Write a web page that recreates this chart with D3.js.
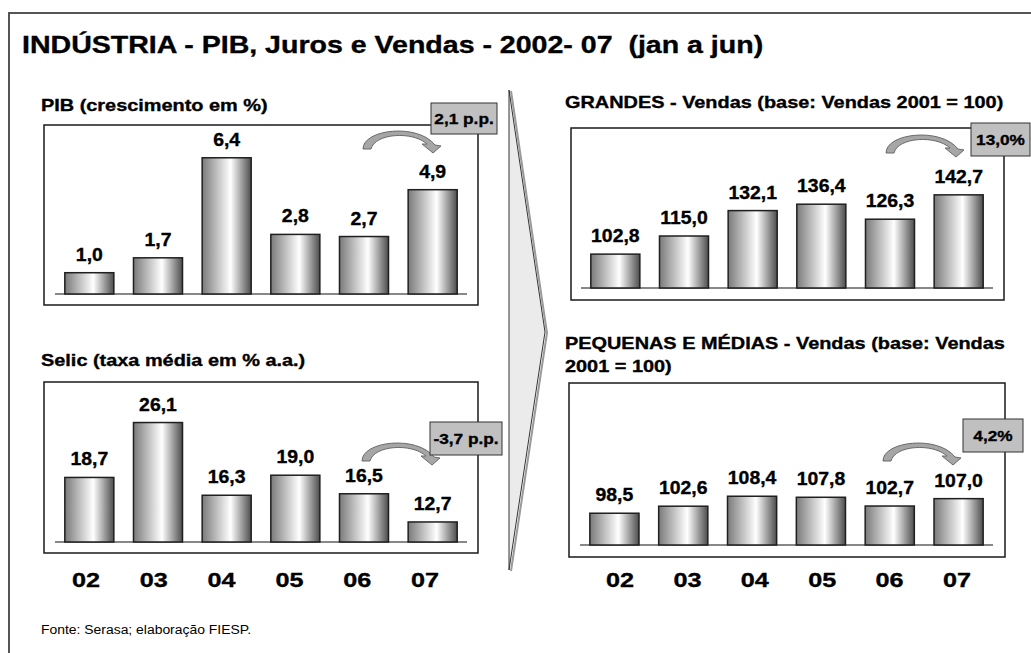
<html>
<head>
<meta charset="utf-8">
<script src="https://d3js.org/d3.v7.min.js"></script>
<style>
body{margin:0;background:#fff;}
svg{display:block;font-family:"Liberation Sans",Arial,sans-serif;}
</style>
</head>
<body></body>
<script>
const width = 1031;
const height = 653;

// data
const years = ['02','03','04','05','06','07'];
const pib = [1.0, 1.7, 6.4, 2.8, 2.7, 4.9];
const selic = [18.7, 26.1, 16.3, 19.0, 16.5, 12.7];
const grandes = [102.8, 115.0, 132.1, 136.4, 126.3, 142.7];
const pequenas = [98.5, 102.6, 108.4, 107.8, 102.7, 107.0];
const badgeTexts = ['2,1 p.p.', '-3,7 p.p.', '13,0%', '4,2%'];
const panelTitles = [
  ['PIB (crescimento em %)'],
  ['Selic (taxa média em % a.a.)'],
  ['GRANDES - Vendas (base: Vendas 2001 = 100)'],
  ['PEQUENAS E MÉDIAS - Vendas (base: Vendas', '2001 = 100)']
];
const mainTitle = 'INDÚSTRIA - PIB, Juros e Vendas - 2002- 07  (jan a jun)';
const source = 'Fonte: Serasa; elaboração FIESP.';

const br = d3.formatLocale({decimal: ',', thousands: '.', grouping: [3], currency: ['R$', '']});
const fmt = br.format('.1f');

// layout for each panel
const panels = [
  {values: pib, title: panelTitles[0], badge: badgeTexts[0], dom: [0, 7], yr: [294, 145],
   xr: [55, 467], box: [44, 125, 478, 305], tx: 41, ty: 111,
   bb: [431, 103, 497, 134], arrow: [363, 149], years: null},
  {values: selic, title: panelTitles[1], badge: badgeTexts[1], dom: [10, 30], yr: [542, 393.6],
   xr: [55, 467], box: [44, 382, 478, 553], tx: 41, ty: 366,
   bb: [430, 422, 502, 455], arrow: [362, 461], years: [86, 425]},
  {values: grandes, title: panelTitles[2], badge: badgeTexts[2], dom: [80, 150], yr: [288, 184],
   xr: [581, 993], box: [571, 128, 1004, 300], tx: 565, ty: 108,
   bb: [971, 123, 1030, 156], arrow: [886, 153], years: null},
  {values: pequenas, title: panelTitles[3], badge: badgeTexts[3], dom: [80, 110], yr: [545, 493.5],
   xr: [580, 993], box: [569, 383, 1005, 557], tx: 565, ty: 349,
   bb: [963, 419, 1023, 452], arrow: [883, 461], years: [620, 957]}
];

const svg = d3.select('body').append('svg')
    .attr('width', width)
    .attr('height', height);

const defs = svg.append('defs');
const grad = defs.append('linearGradient')
    .attr('id', 'barGrad')
    .attr('x1', '0%').attr('x2', '100%').attr('y1', '0%').attr('y2', '0%');
grad.append('stop').attr('offset', '0%').attr('stop-color', '#7a7a7a');
grad.append('stop').attr('offset', '58%').attr('stop-color', '#ffffff');
grad.append('stop').attr('offset', '100%').attr('stop-color', '#4d4d4d');

// stretched text helper (the original lettering is a bit wide and heavy)
function label(g, x, y, txt, size, sx, anchor, weight){
  const t = g.append('text')
      .attr('transform', `translate(${x},${y}) scale(${sx},1)`)
      .attr('text-anchor', anchor || 'start')
      .attr('font-size', size)
      .attr('font-weight', weight || 'bold')
      .attr('fill', '#000')
      .style('white-space', 'pre')
      .text(txt);
  if (!weight) t.attr('stroke', '#000').attr('stroke-width', 0.35);
  return t;
}

// outer frame
svg.append('rect')
    .attr('x', 9).attr('y', 13)
    .attr('width', 1040).attr('height', 660)
    .attr('fill', 'none')
    .attr('stroke', '#555')
    .attr('stroke-width', 2);

label(svg, 22, 53, mainTitle, 24, 1.19);

// big arrow in the middle
const chevron = [[509, 90], [545, 332], [509, 570]];
svg.append('path')
    .attr('d', d3.line()(chevron.map(p => [p[0] + 2, p[1] + 1])))
    .attr('fill', 'none')
    .attr('stroke', '#9a9a9a')
    .attr('stroke-width', 2);
svg.append('path')
    .attr('d', d3.line()(chevron) + 'Z')
    .attr('fill', '#ebebeb')
    .attr('stroke', '#333')
    .attr('stroke-width', 1);

const curvedArrow = 'M0,0 C0,-20 55,-26 72,-4 L78,-3 L70,4 L59,-5 L64,-5 C50,-18 12,-16 8,0 Z';

panels.forEach(p => {
  const g = svg.append('g');

  const x = d3.scaleBand()
      .domain(years)
      .range(p.xr)
      .paddingInner(0.286)
      .paddingOuter(0.143);

  const y = d3.scaleLinear()
      .domain(p.dom)
      .range(p.yr);

  p.title.forEach((t, i) => label(g, p.tx, p.ty + i * 23, t, 17, 1.17));

  g.append('rect')
      .attr('x', p.box[0]).attr('y', p.box[1])
      .attr('width', p.box[2] - p.box[0])
      .attr('height', p.box[3] - p.box[1])
      .attr('fill', 'none')
      .attr('stroke', '#1a1a1a')
      .attr('stroke-width', 1.5);

  // baseline
  g.append('line')
      .attr('x1', p.xr[0]).attr('x2', p.xr[1])
      .attr('y1', y(p.dom[0])).attr('y2', y(p.dom[0]))
      .attr('stroke', '#888')
      .attr('stroke-width', 2);

  g.selectAll('rect.bar')
      .data(p.values)
      .enter()
    .append('rect')
      .attr('class', 'bar')
      .attr('x', (d, i) => x(years[i]))
      .attr('y', d => y(d))
      .attr('width', x.bandwidth())
      .attr('height', d => y(p.dom[0]) - y(d))
      .attr('fill', 'url(#barGrad)')
      .attr('stroke', '#1f1f1f')
      .attr('stroke-width', 1.5);

  p.values.forEach((d, i) => {
    label(g, x(years[i]) + x.bandwidth() / 2, y(d) - 12, fmt(d), 18.5, 1.05, 'middle');
  });

  if (p.years){
    const xl = d3.scalePoint().domain(years).range(p.years);
    years.forEach(yv => label(g, xl(yv), 587, yv, 21, 1.2, 'middle'));
  }

  // curved arrow
  g.append('path')
      .attr('d', curvedArrow)
      .attr('transform', `translate(${p.arrow[0]},${p.arrow[1]})`)
      .attr('fill', '#a6a6a6')
      .attr('stroke', '#6b6b6b')
      .attr('stroke-width', 1);

  // badge
  g.append('rect')
      .attr('x', p.bb[0]).attr('y', p.bb[1])
      .attr('width', p.bb[2] - p.bb[0])
      .attr('height', p.bb[3] - p.bb[1])
      .attr('fill', '#c0c0c0')
      .attr('stroke', '#333')
      .attr('stroke-width', 1);
  label(g, (p.bb[0] + p.bb[2]) / 2, (p.bb[1] + p.bb[3]) / 2 + 5.5, p.badge, 15, 1.15, 'middle');
});

label(svg, 41, 634, source, 12, 1.16, 'start', 'normal');
</script>
</html>
